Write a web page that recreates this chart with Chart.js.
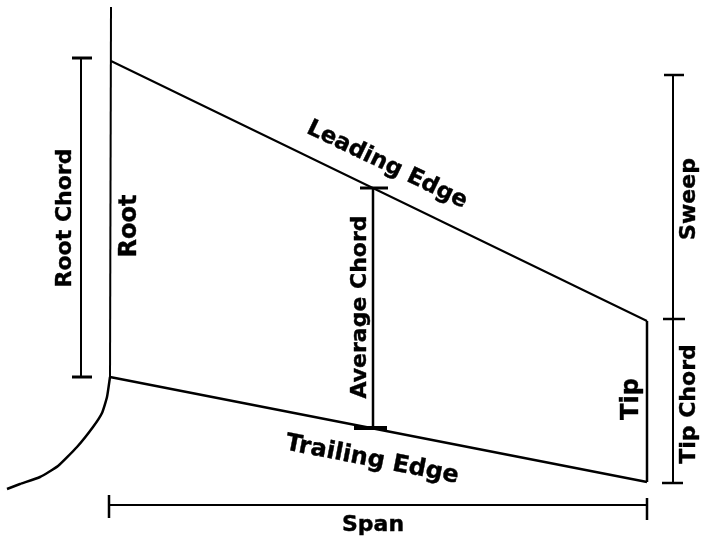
<!DOCTYPE html>
<html>
<head>
<meta charset="utf-8">
<title>Wing planform</title>
<script src="https://cdn.jsdelivr.net/npm/chart.js@4"></script>
<style>
  html, body { margin: 0; padding: 0; background: #fff; }
  canvas { display: block; }
</style>
</head>
<body>
<canvas id="wing" width="702" height="539"></canvas>
<script>
// OUTLINE OF THE WING
const rootX = [111, 110];
const rootY = [7, 377];
const fuselageX = [110, 107, 102, 93, 77, 58, 40, 20, 7];
const fuselageY = [377, 397, 413, 427, 447, 466, 477, 484, 489];
const leadingX = [111, 647];
const leadingY = [61, 321];
const trailingX = [110, 647];
const trailingY = [377, 482];
const tipX = [647, 647];
const tipY = [321, 482];

// DIMENSION LINES
const rootChordX = [81, 81];
const rootChordY = [58, 377];
const rootChordTopX = [72, 92];
const rootChordTopY = [58, 58];
const rootChordEndX = [72, 92];
const rootChordEndY = [377, 377];

const avgChordX = [373, 373];
const avgChordY = [188, 428];
const avgChordTopX = [360, 388];
const avgChordTopY = [188, 188];
const avgChordEndX = [354, 387];
const avgChordEndY = [428, 428];

const sweepX = [673, 673];
const sweepY = [75, 483];
const sweepTopX = [664, 684];
const sweepTopY = [75, 75];
const sweepMidX = [663, 685];
const sweepMidY = [319, 319];
const sweepEndX = [662, 683];
const sweepEndY = [483, 483];

const spanX = [109, 647];
const spanY = [505, 505];
const spanLeftX = [109, 109];
const spanLeftY = [495, 518];
const spanRightX = [647, 647];
const spanRightY = [498, 520];

// LABELS
const labelTexts = ["Root Chord", "Root", "Leading Edge", "Average Chord", "Trailing Edge", "Tip", "Sweep", "Tip Chord", "Span"];
const labelX = [65, 130, 387, 360, 372, 632, 689, 689, 373];
const labelY = [218, 226, 165, 307, 460, 399, 199, 404, 525];
const labelAngle = [-90, -90, 25.7, -90, 11, -90, -90, -90, 0];
const labelSize = [22, 24, 23, 22, 24, 24, 22, 22, 22];

function segment(xs, ys, width, tension) {
  return {
    data: xs.map((x, i) => ({ x: x, y: ys[i] })),
    borderColor: "#000",
    borderWidth: width,
    pointRadius: 0,
    showLine: true,
    tension: tension || 0,
  };
}

// draws the words through the scales so they stay tied to the axes
const labelPlugin = {
  id: "labels",
  afterDatasetsDraw(chart) {
    const c = chart.ctx;
    labelTexts.forEach((text, i) => {
      c.save();
      c.translate(chart.scales.x.getPixelForValue(labelX[i]), chart.scales.y.getPixelForValue(labelY[i]));
      c.rotate((labelAngle[i] * Math.PI) / 180);
      c.font = "bold " + labelSize[i] + "px 'DejaVu Sans'";
      c.fillStyle = "#000";
      c.strokeStyle = "#000";
      c.lineWidth = 0.4;
      c.textAlign = "center";
      c.textBaseline = "middle";
      c.fillText(text, 0, 0);
      c.strokeText(text, 0, 0);
      c.restore();
    });
  },
};

new Chart(document.getElementById("wing"), {
  type: "scatter",
  data: {
    datasets: [
      segment(rootX, rootY, 2),
      segment(fuselageX, fuselageY, 2.5, 0.15),
      segment(leadingX, leadingY, 2),
      segment(trailingX, trailingY, 2.5),
      segment(tipX, tipY, 2.5),
      segment(rootChordX, rootChordY, 2),
      segment(rootChordTopX, rootChordTopY, 3),
      segment(rootChordEndX, rootChordEndY, 3),
      segment(avgChordX, avgChordY, 2.5),
      segment(avgChordTopX, avgChordTopY, 3),
      segment(avgChordEndX, avgChordEndY, 4),
      segment(sweepX, sweepY, 2),
      segment(sweepTopX, sweepTopY, 2.5),
      segment(sweepMidX, sweepMidY, 2.5),
      segment(sweepEndX, sweepEndY, 2.5),
      segment(spanX, spanY, 2),
      segment(spanLeftX, spanLeftY, 2.5),
      segment(spanRightX, spanRightY, 2.5),
    ],
  },
  options: {
    responsive: false,
    animation: false,
    layout: { padding: 0 },
    plugins: { legend: { display: false }, tooltip: { enabled: false } },
    scales: {
      x: { type: "linear", min: 0, max: 702, display: false },
      y: { type: "linear", min: 0, max: 539, reverse: true, display: false },
    },
  },
  plugins: [labelPlugin],
});
</script>
</body>
</html>
